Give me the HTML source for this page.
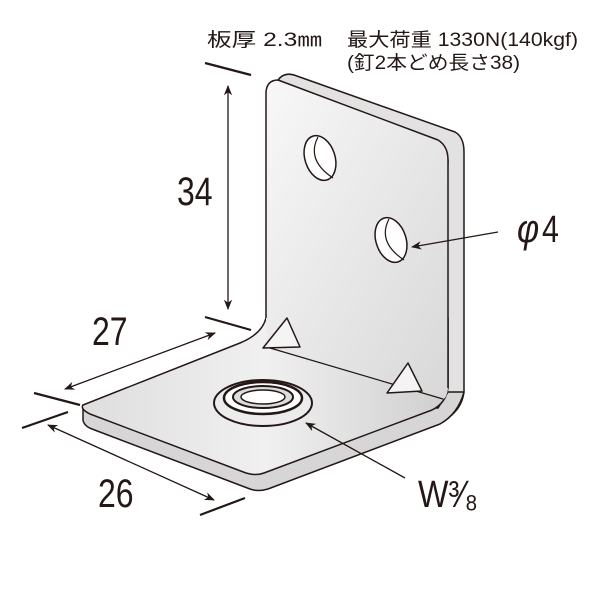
<!DOCTYPE html>
<html><head><meta charset="utf-8"><style>
html,body{margin:0;padding:0;background:#fff;}
svg{display:block}
text{font-family:"Liberation Sans","Noto Sans CJK JP",sans-serif;fill:#231815}
</style></head><body>
<svg width="600" height="600" viewBox="0 0 600 600" xmlns="http://www.w3.org/2000/svg">
<defs>
<linearGradient id="g1" x1="0" y1="0" x2="1" y2="1"><stop offset="0" stop-color="#f8f8f8"/><stop offset="1" stop-color="#d8d8d8"/></linearGradient>
<linearGradient id="g2" x1="0" y1="0" x2="1" y2="0"><stop offset="0" stop-color="#dedede"/><stop offset="0.5" stop-color="#f0f0f0"/><stop offset="1" stop-color="#cfcfcf"/></linearGradient>
<marker id="ar" viewBox="0 0 10 10" refX="9" refY="5" markerWidth="8" markerHeight="8" orient="auto-start-reverse"><path d="M0,1 L10,5 L0,9 L3,5 z" fill="#231815"/></marker>
</defs>
<g stroke="#231815" stroke-width="1.5" stroke-linejoin="round">
<!-- back thickness of vertical plate -->
<path d="M278,80 Q284,72 294,75 L455,132 Q464,137 464,152 L464,392 Q462,408 448,418 L440,400 L448,160 Z" fill="#e2e2e2"/>
<!-- base plate thickness -->
<path d="M83,405 L83,420 Q84,426 92,429 L250,489 Q258,492 268,489 L440,424 Q458,414 464,392 L448,392 L438,408 Z" fill="#d6d6d6"/>
<!-- base top surface -->
<path d="M83,405 L240,343 Q262,334 266,318 L448,318 L448,388 Q446,403 432,410 L264,473 Q256,476 246,473 L90,414 Q80,409 83,405 Z" fill="url(#g2)"/>
<!-- vertical plate front face -->
<path d="M266,318 L266,92 Q267,80 278,80 L438,140 Q448,146 448,160 L448,388 Q447,398 443,399 L270,348 Q266,335 266,318 Z" fill="url(#g1)" stroke="none"/>
<path d="M266,318 L266,92 Q267,80 278,80 L438,140 Q448,146 448,160 L448,388" fill="none"/>
<path d="M270,348 L443,399" fill="none" stroke-width="1.2"/>
<!-- holes vertical -->
<ellipse cx="320" cy="158" rx="15" ry="23" transform="rotate(-18 320 158)" fill="#fff"/>
<path d="M318,137 Q306,160 333,178" fill="none" stroke-width="1.2"/>
<ellipse cx="391" cy="240" rx="15" ry="23" transform="rotate(-18 391 240)" fill="#fff"/>
<path d="M389,219 Q377,242 404,260" fill="none" stroke-width="1.2"/>
<!-- triangles -->
<path d="M263,348 L287,318 L300,347 Z" fill="#f4f4f4"/>
<path d="M387,393 L408,363 L422,391 Z" fill="#f4f4f4"/>
<!-- nut -->
<ellipse cx="263" cy="403" rx="49" ry="23" fill="#ececec" stroke-width="2"/>
<ellipse cx="263" cy="398" rx="39" ry="16" fill="#fff" stroke-width="2.5"/>
<ellipse cx="263" cy="397" rx="30" ry="11" fill="#ddd" stroke-width="2"/>
<ellipse cx="263" cy="397" rx="22" ry="7" fill="#fff" stroke-width="1.5"/>
</g>
<g stroke="#231815" stroke-width="1.3" fill="none">
<line x1="205" y1="63" x2="251" y2="75" stroke-width="2.2"/>
<line x1="205" y1="317" x2="251" y2="330" stroke-width="2.2"/>
<line x1="228" y1="86" x2="228" y2="309" marker-start="url(#ar)" marker-end="url(#ar)"/>
<line x1="65" y1="389" x2="215" y2="333" marker-start="url(#ar)" marker-end="url(#ar)"/>
<line x1="34" y1="393" x2="80" y2="405" stroke-width="2.2"/>
<line x1="22" y1="428" x2="68" y2="412" stroke-width="2.2"/>
<line x1="48" y1="425" x2="214" y2="500" marker-start="url(#ar)" marker-end="url(#ar)"/>
<line x1="200" y1="515" x2="245" y2="498" stroke-width="2.2"/>
<line x1="498" y1="232" x2="412" y2="247" marker-end="url(#ar)"/>
<line x1="405" y1="478" x2="306" y2="423" marker-end="url(#ar)"/>
</g>
<text x="207" y="46" font-size="19" textLength="115" lengthAdjust="spacingAndGlyphs">板厚 2.3㎜</text>
<text x="347" y="46" font-size="19" textLength="231" lengthAdjust="spacingAndGlyphs">最大荷重 1330N(140kgf)</text>
<text x="347" y="69" font-size="19" textLength="173" lengthAdjust="spacingAndGlyphs">(釘2本どめ長さ38)</text>
<text transform="translate(177,205) scale(0.8,1)" font-size="40">34</text>
<text transform="translate(92,345) scale(0.8,1)" font-size="40">27</text>
<text transform="translate(98,507) scale(0.8,1)" font-size="40">26</text>
<text transform="translate(517,242) scale(0.85,1)" font-size="40" font-style="italic">φ</text>
<text transform="translate(542,242) scale(0.8,1)" font-size="38">4</text>
<text transform="translate(418,507) scale(0.85,1)" font-size="38">W³⁄₈</text>
</svg>
</body></html>
